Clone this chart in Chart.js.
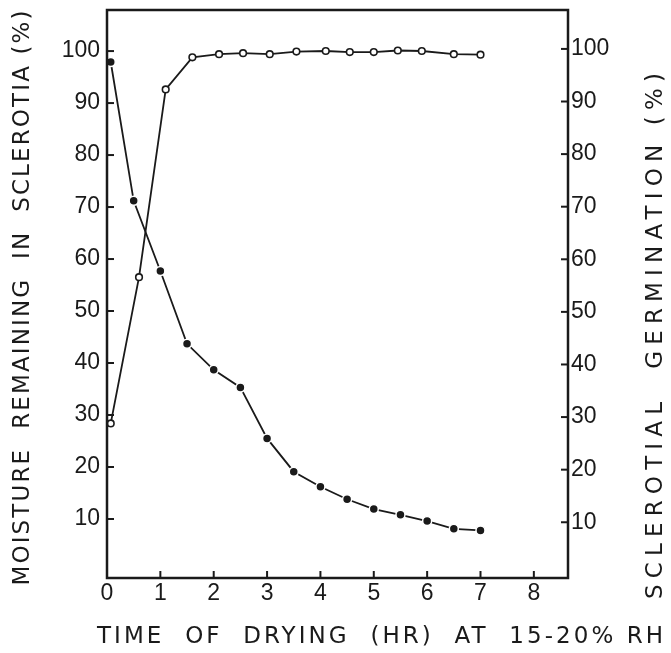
<!DOCTYPE html>
<html>
<head>
<meta charset="utf-8">
<script src="https://cdn.jsdelivr.net/npm/chart.js@4.4.1/dist/chart.umd.min.js"></script>
<style>
html,body{margin:0;padding:0;background:#fff;}
#wrap{width:671px;height:653px;position:relative;}
</style>
</head>
<body>
<div id="wrap"><canvas id="c"></canvas></div>
<script>
// ---- data ----
const hours = [0.07, 0.5, 1, 1.5, 2, 2.5, 3, 3.5, 4, 4.5, 5, 5.5, 6, 6.5, 7];
const moisture = [97.9, 71.2, 57.7, 43.7, 38.7, 35.3, 25.5, 19.1, 16.2, 13.8, 11.9, 10.8, 9.6, 8.1, 7.8];
const germHours = [0.07, 0.6, 1.1, 1.6, 2.1, 2.55, 3.05, 3.55, 4.1, 4.55, 5, 5.45, 5.9, 6.5, 7];
const germination = [28.8, 56.6, 92.3, 98.4, 99.0, 99.2, 99.0, 99.5, 99.6, 99.4, 99.4, 99.7, 99.6, 99.0, 98.9];
const xTicks = [0, 1, 2, 3, 4, 5, 6, 7, 8];
const yTicksLeft = [10, 20, 30, 40, 50, 60, 70, 80, 90, 100];
const yTicksRight = [10, 20, 30, 40, 50, 60, 70, 80, 90, 100];
const xTitle = "TIME  OF  DRYING  (HR)  AT  15-20% RH";
const yTitleLeft = "MOISTURE  REMAINING  IN  SCLEROTIA (%)";
const yTitleRight = "SCLEROTIAL  GERMINATION (%)";

const INK = '#1a1a1a';
const FONT = "'Liberation Sans', Arial, sans-serif";
const TFONT = "'DejaVu Sans', sans-serif";

function setTicks(arr) {
  return function (scale) { scale.ticks = arr.map(v => ({ value: v })); };
}
function fitBox(prop, val) {
  return function (s) {
    s[prop] = val;
    s.paddingTop = 0; s.paddingBottom = 0; s.paddingLeft = 0; s.paddingRight = 0;
  };
}

function drawFitted(ctx, text, cx, cy, width, rot, size) {
  ctx.save();
  ctx.translate(cx, cy);
  ctx.rotate(rot);
  ctx.font = size + 'px ' + TFONT;
  ctx.letterSpacing = '0px';
  const base = ctx.measureText(text).width;
  const sp = (width - base) / (text.length - 1);
  ctx.letterSpacing = sp + 'px';
  ctx.fillStyle = INK;
  ctx.textAlign = 'left';
  ctx.textBaseline = 'middle';
  ctx.fillText(text, -width / 2, 0);
  ctx.restore();
}

const decor = {
  id: 'decor',
  afterDraw(chart) {
    const ctx = chart.ctx;
    const a = chart.chartArea;
    ctx.save();
    ctx.strokeStyle = INK;
    ctx.lineWidth = 2;
    const L = 7;
    chart.scales.x.ticks.forEach(t => {
      const px = chart.scales.x.getPixelForValue(t.value);
      ctx.beginPath(); ctx.moveTo(px, a.bottom); ctx.lineTo(px, a.bottom - L); ctx.stroke();
    });
    chart.scales.y.ticks.forEach(t => {
      const py = chart.scales.y.getPixelForValue(t.value);
      ctx.beginPath(); ctx.moveTo(a.left, py); ctx.lineTo(a.left + L, py); ctx.stroke();
    });
    chart.scales.y2.ticks.forEach(t => {
      const py = chart.scales.y2.getPixelForValue(t.value);
      ctx.beginPath(); ctx.moveTo(a.right, py); ctx.lineTo(a.right - L, py); ctx.stroke();
    });
    ctx.lineWidth = 2.5;
    ctx.strokeRect(a.left, a.top, a.right - a.left, a.bottom - a.top);
    ctx.restore();
    drawFitted(ctx, xTitle, 380, 637, 566, 0, 23);
    drawFitted(ctx, yTitleLeft, 23, 298, 575, -Math.PI / 2, 23);
    drawFitted(ctx, yTitleRight, 656, 336, 526, -Math.PI / 2, 23);
  }
};

new Chart(document.getElementById('c'), {
  type: 'line',
  data: {
    datasets: [
      {
        label: 'Moisture',
        data: hours.map((h, i) => ({ x: h, y: moisture[i] })),
        yAxisID: 'y',
        borderColor: INK,
        borderWidth: 1.8,
        backgroundColor: INK,
        pointBackgroundColor: INK,
        pointBorderColor: '#fff',
        pointBorderWidth: 1.5,
        pointRadius: 4.5,
        tension: 0
      },
      {
        label: 'Germination',
        data: germHours.map((h, i) => ({ x: h, y: germination[i] })),
        yAxisID: 'y2',
        borderColor: INK,
        borderWidth: 1.8,
        pointBackgroundColor: '#fff',
        pointBorderColor: INK,
        pointBorderWidth: 1.6,
        pointRadius: 3.3,
        tension: 0
      }
    ]
  },
  options: {
    responsive: true,
    maintainAspectRatio: false,
    animation: false,
    devicePixelRatio: 1,
    layout: { padding: { top: 10, left: 0, right: 0, bottom: 0 } },
    plugins: { legend: { display: false }, tooltip: { enabled: false } },
    scales: {
      x: {
        type: 'linear', min: 0, max: 8.64,
        afterBuildTicks: setTicks(xTicks),
        afterFit: fitBox('height', 75),
        grid: { drawOnChartArea: false, drawTicks: false },
        border: { display: false },
        ticks: { color: INK, font: { family: FONT, size: 23 }, padding: 2, maxRotation: 0 }
      },
      y: {
        type: 'linear', position: 'left', min: -1.35, max: 107.9,
        afterBuildTicks: setTicks(yTicksLeft),
        afterFit: fitBox('width', 107),
        grid: { drawOnChartArea: false, drawTicks: false },
        border: { display: false },
        ticks: { color: INK, font: { family: FONT, size: 23 }, padding: 7 }
      },
      y2: {
        type: 'linear', position: 'right', min: -0.6, max: 107.4,
        afterBuildTicks: setTicks(yTicksRight),
        afterFit: fitBox('width', 103),
        grid: { drawOnChartArea: false, drawTicks: false },
        border: { display: false },
        ticks: { color: INK, font: { family: FONT, size: 23 }, padding: 3 }
      }
    }
  },
  plugins: [decor]
});
</script>
</body>
</html>
